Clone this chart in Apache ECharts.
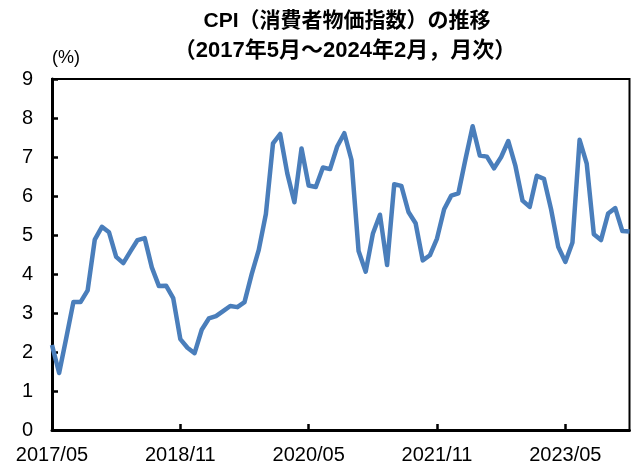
<!DOCTYPE html>
<html>
<head>
<meta charset="utf-8">
<script src="https://cdn.jsdelivr.net/npm/echarts@6/dist/echarts.min.js"></script>
<style>
  html, body { margin: 0; padding: 0; background: #fff; }
  #main { width: 631px; height: 466px; }
</style>
</head>
<body>
<div id="main"></div>
<script>
// CPI, year on year (%), monthly 2017/05 - 2024/02
var titleLine1 = 'CPI（消費者物価指数）の推移';
var titleLine2 = '（2017年5月～2024年2月，月次）';
var unitLabel = '(%)';

var startYear = 2017, startMonth = 5;
var cpi2017 = [2.18, 1.46, 2.36, 3.28, 3.28, 3.58, 4.88, 5.21];
var cpi2018 = [5.07, 4.44, 4.28, 4.58, 4.87, 4.92, 4.17, 3.69, 3.70, 3.38, 2.33, 2.11];
var cpi2019 = [1.97, 2.57, 2.86, 2.92, 3.05, 3.18, 3.15, 3.28, 3.99, 4.62, 5.54, 7.35];
var cpi2020 = [7.59, 6.58, 5.84, 7.22, 6.27, 6.23, 6.73, 6.69, 7.27, 7.61, 6.93, 4.59];
var cpi2021 = [4.06, 5.03, 5.52, 4.23, 6.30, 6.26, 5.59, 5.30, 4.35, 4.48, 4.91, 5.66];
var cpi2022 = [6.01, 6.07, 6.95, 7.79, 7.04, 7.01, 6.71, 7.00, 7.41, 6.77, 5.88, 5.72];
var cpi2023 = [6.52, 6.44, 5.66, 4.70, 4.31, 4.81, 7.44, 6.83, 5.02, 4.87, 5.55, 5.69];
var cpi2024 = [5.10, 5.09];

var tickLabels = ['2017/05', '2018/11', '2020/05', '2021/11', '2023/05'];

var cpi = [].concat(cpi2017, cpi2018, cpi2019, cpi2020, cpi2021, cpi2022, cpi2023, cpi2024);

// month categories
var months = [];
for (var i = 0; i < cpi.length; i++) {
  var m = startMonth - 1 + i;
  var y = startYear + Math.floor(m / 12);
  var mm = (m % 12) + 1;
  months.push(y + '/' + (mm < 10 ? '0' + mm : mm));
}

var labelFont = '"Liberation Sans", Arial, sans-serif';
var titleFont = '"Liberation Sans", "Noto Sans CJK JP", sans-serif';

var chart = echarts.init(document.getElementById('main'), null, { renderer: 'canvas' });
chart.setOption({
  animation: false,
  backgroundColor: '#fff',
  grid: {
    left: 52, right: 1.5, top: 79, bottom: 36,
    show: true, borderColor: '#000', borderWidth: 2
  },
  graphic: [
    {
      type: 'text', x: 347, y: 21,
      style: { text: titleLine1, textAlign: 'center', textVerticalAlign: 'middle',
        font: 'bold 21px ' + titleFont, fill: '#000' }
    },
    {
      type: 'text', x: 345, y: 51,
      style: { text: titleLine2, textAlign: 'center', textVerticalAlign: 'middle',
        font: 'bold 22px ' + titleFont, fill: '#000' }
    },
    {
      type: 'text', x: 52, y: 58,
      style: { text: unitLabel, textAlign: 'left', textVerticalAlign: 'middle',
        font: '18px ' + labelFont, fill: '#000' }
    }
  ],
  xAxis: {
    type: 'category',
    data: months,
    boundaryGap: false,
    axisLine: { lineStyle: { color: '#000', width: 3 } },
    axisTick: {
      inside: true, length: 6, interval: function (idx, val) { return tickLabels.indexOf(val) >= 0; },
      lineStyle: { color: '#000', width: 2.5 }
    },
    axisLabel: {
      interval: function (idx, val) { return tickLabels.indexOf(val) >= 0; },
      color: '#000', fontSize: 20, fontFamily: labelFont, margin: 15
    },
    splitLine: { show: false }
  },
  yAxis: {
    type: 'value',
    min: 0, max: 9, interval: 1,
    axisLine: { show: true, lineStyle: { color: '#000', width: 3 } },
    axisTick: { show: true, inside: true, length: 6, lineStyle: { color: '#000', width: 2.5 } },
    axisLabel: { color: '#000', fontSize: 20, fontFamily: labelFont, margin: 19 },
    splitLine: { show: false }
  },
  series: [{
    type: 'line',
    data: cpi,
    symbol: 'none',
    lineStyle: { color: '#4a7ebb', width: 4.5, join: 'round' },
    itemStyle: { color: '#4a7ebb' }
  }]
});
</script>
</body>
</html>
